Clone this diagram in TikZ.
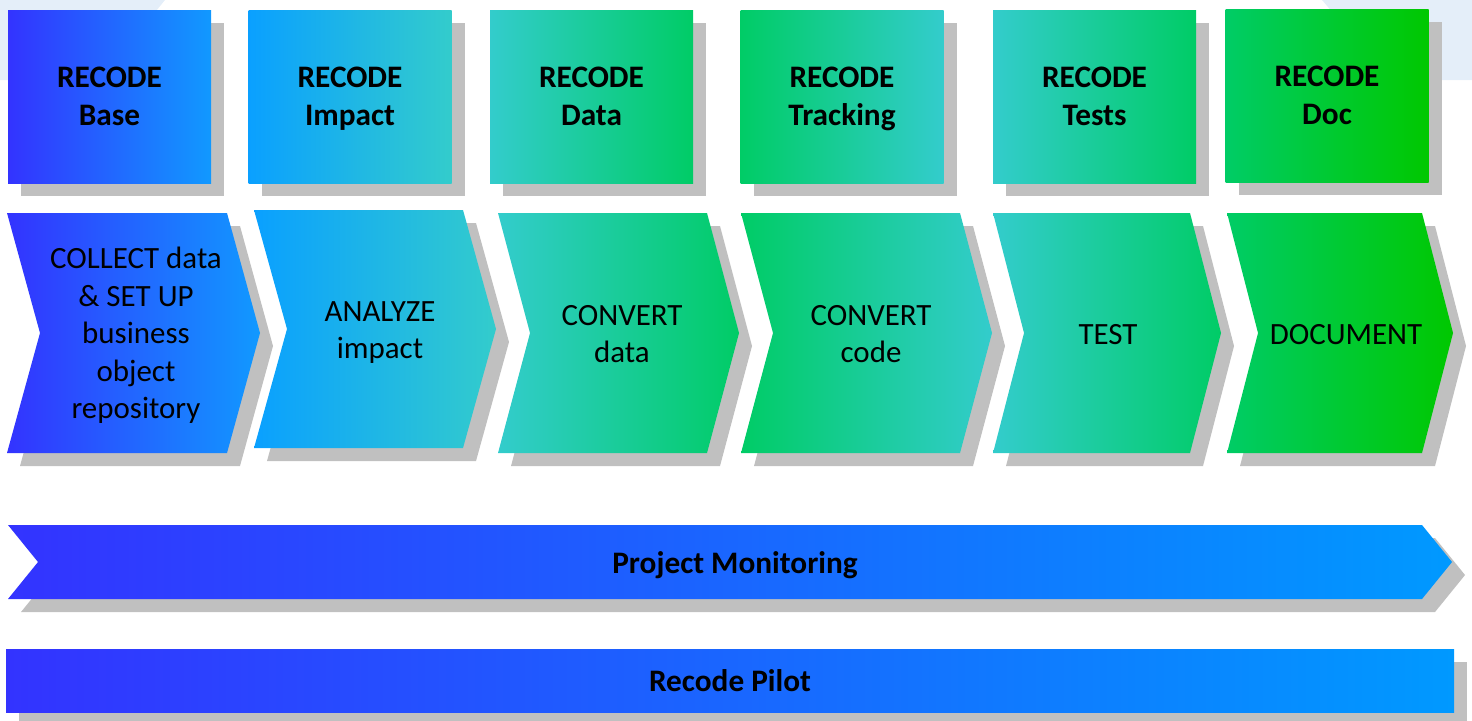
\documentclass[tikz,border=0pt]{standalone}
\usepackage{fontspec}
\setmainfont{Carlito}
\usetikzlibrary{shadows}

\definecolor{cblue}{HTML}{3333FF}
\definecolor{csky}{HTML}{1199FF}
\definecolor{cazure}{HTML}{0AA0FF}
\definecolor{cteal}{HTML}{33CCCC}
\definecolor{cgreen}{HTML}{00CC66}
\definecolor{clime}{HTML}{00C800}
\definecolor{cbar}{HTML}{0099FF}
\definecolor{cshade}{HTML}{C0C0C0}
\definecolor{cback}{HTML}{E4EEF9}

\tikzstyle{box}=[minimum width=20.3mm, minimum height=17.3mm, inner sep=0pt, align=center,
  text depth=0pt, font=\fontsize{8.9}{10.9}\selectfont\bfseries,
  drop shadow={shadow xshift=1.3mm, shadow yshift=-1.3mm, fill=cshade, opacity=1}]
\tikzstyle{lbl}=[align=center, inner sep=0pt, text depth=0pt, font=\fontsize{8.8}{10.7}\selectfont]

% chevron: left, right, top, bottom, depth, left colour, right colour
\newcommand{\chev}[7]{%
  \fill[cshade] ({#1+13},{#3+13}) -- ({#2+13},{#3+13}) -- ({#2+#5+13},{(#3+#4)/2+13})
    -- ({#2+13},{#4+13}) -- ({#1+13},{#4+13}) -- ({#1+#5+13},{(#3+#4)/2+13}) -- cycle;
  \shade[left color=#6, right color=#7] (#1,#3) -- (#2,#3) -- ({#2+#5},{(#3+#4)/2})
    -- (#2,#4) -- (#1,#4) -- ({#1+#5},{(#3+#4)/2}) -- cycle;}

\begin{document}
\begin{tikzpicture}[x=0.1mm, y=-0.1mm]
  \useasboundingbox (0,0) rectangle (1472,720);

  % fondo
  \fill[cback] (0,0) -- (165,0) -- (100,80) -- (0,80) -- cycle;
  \fill[cback] (1322,0) -- (1472,0) -- (1472,80) -- (1390,80) -- cycle;

  % cajas RECODE
  \node[box, left color=cblue, right color=csky] (b1) at (109.5,96.5) {RECODE\\Base};
  \node[box, left color=cazure, right color=cteal] (b2) at (350,96.5) {RECODE\\Impact};
  \node[box, left color=cteal, right color=cgreen] (b3) at (591.5,96.5) {RECODE\\Data};
  \node[box, left color=cgreen, right color=cteal] (b4) at (842,96.5) {RECODE\\Tracking};
  \node[box, left color=cteal, right color=cgreen] (b5) at (1094.5,96.5) {RECODE\\Tests};
  \node[box, left color=cgreen, right color=clime] (b6) at (1327,95.5) {RECODE\\Doc};

  % pasos
  \chev{7}{227}{213}{453}{33}{cblue}{csky}
  \chev{254}{463}{210}{448}{33}{cazure}{cteal}
  \chev{498}{707}{213}{453}{32}{cteal}{cgreen}
  \chev{741}{960}{213}{453}{32}{cgreen}{cteal}
  \chev{993}{1190}{213}{453}{31}{cteal}{cgreen}
  \chev{1227}{1422}{213}{453}{31}{cgreen}{clime}

  \node[lbl] (c1) at (136,333) {COLLECT data\\\& SET UP\\business\\object\\repository};
  \node[lbl] (c2) at (380,330) {ANALYZE\\impact};
  \node[lbl] (c3) at (622,334) {CONVERT\\data};
  \node[lbl] (c4) at (871,334) {CONVERT\\code};
  \node[lbl] (c5) at (1108,334) {TEST};
  \node[lbl] (c6) at (1346,334) {DOCUMENT};

  % barras
  \chev{8}{1422}{525}{599}{30}{cblue}{cbar}
  \node[lbl, font=\fontsize{8.9}{10.9}\selectfont\bfseries] (pm) at (735,563) {Project Monitoring};

  \node[box, minimum width=144.8mm, minimum height=6.3mm, left color=cblue, right color=cbar] (rp) at (730,680.5) {Recode Pilot};
\end{tikzpicture}
\end{document}
